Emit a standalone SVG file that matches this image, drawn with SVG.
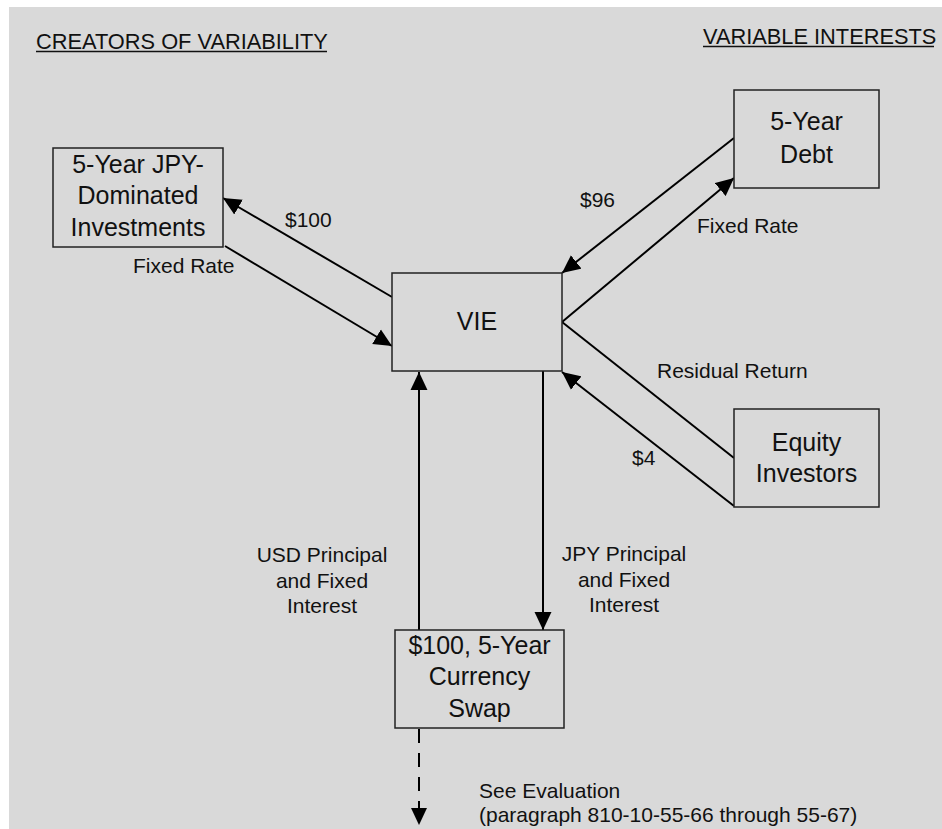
<svg xmlns="http://www.w3.org/2000/svg" width="942" height="829" viewBox="0 0 942 829">
<style>
text{font-family:"Liberation Sans",Arial,sans-serif;fill:#111}
.box{fill:#d9d9d9;stroke:#222;stroke-width:1.5}
.bt{font-size:25px;text-anchor:middle}
.lb{font-size:21px}
.hd{font-size:21.8px}
.ln{stroke:#000;stroke-width:2;fill:none}
.arr{marker-end:url(#ah)}
</style>
<defs>
<marker id="ah" markerUnits="userSpaceOnUse" markerWidth="18" markerHeight="18" viewBox="0 0 17 16" refX="17" refY="8" orient="auto">
<path d="M0,0 L17,8 L0,16 Z" fill="#000"/>
</marker>
</defs>
<rect x="9" y="7" width="933" height="822" fill="#d9d9d9"/>
<g id="headers">
<text class="hd" x="36" y="49">CREATORS OF VARIABILITY</text>
<line x1="36" y1="51.5" x2="327" y2="51.5" stroke="#111" stroke-width="1.5"/>
<text class="hd" x="703" y="44">VARIABLE INTERESTS</text>
<line x1="703" y1="46.5" x2="934" y2="46.5" stroke="#111" stroke-width="1.5"/>
</g>
<g id="connectors">
<line class="ln arr" x1="392" y1="297" x2="223" y2="198"/>
<line class="ln arr" x1="225" y1="246" x2="392" y2="346"/>
<line class="ln arr" x1="734" y1="138" x2="562" y2="273"/>
<line class="ln arr" x1="562" y1="322" x2="734" y2="178"/>
<line class="ln" x1="562" y1="322" x2="734" y2="458"/>
<line class="ln arr" x1="734" y1="506" x2="562" y2="372"/>
<line class="ln arr" x1="419" y1="630" x2="419" y2="372"/>
<line class="ln arr" x1="543" y1="371" x2="543" y2="630"/>
<line class="ln" x1="419" y1="729" x2="419" y2="810" stroke-dasharray="14 10"/>
<path d="M411,808 L427,808 L419,825 Z" fill="#000"/>
<text class="lb" x="285" y="227">$100</text>
<text class="lb" x="133" y="273">Fixed Rate</text>
<text class="lb" x="580" y="207">$96</text>
<text class="lb" x="697" y="233">Fixed Rate</text>
<text class="lb" x="657" y="378">Residual Return</text>
<text class="lb" x="632" y="465">$4</text>
<text class="lb" text-anchor="middle"><tspan x="322" y="562">USD Principal</tspan><tspan x="322" y="588">and Fixed</tspan><tspan x="322" y="613">Interest</tspan></text>
<text class="lb" text-anchor="middle"><tspan x="624" y="561">JPY Principal</tspan><tspan x="624" y="587">and Fixed</tspan><tspan x="624" y="612">Interest</tspan></text>
<text class="lb"><tspan x="479" y="798">See Evaluation</tspan><tspan x="479" y="822">(paragraph 810-10-55-66 through 55-67)</tspan></text>
</g>
<g id="investments">
<rect class="box" x="53" y="148" width="170" height="99"/>
<text class="bt"><tspan x="138" y="173">5-Year JPY-</tspan><tspan x="138" y="204">Dominated</tspan><tspan x="138" y="236">Investments</tspan></text>
</g>
<g id="vie">
<rect class="box" x="392" y="273" width="170" height="98"/>
<text class="bt" x="477" y="330">VIE</text>
</g>
<g id="debt">
<rect class="box" x="734" y="90" width="145" height="98"/>
<text class="bt"><tspan x="806.5" y="130">5-Year</tspan><tspan x="806.5" y="163">Debt</tspan></text>
</g>
<g id="equity">
<rect class="box" x="734" y="409" width="145" height="98"/>
<text class="bt"><tspan x="806.5" y="451">Equity</tspan><tspan x="806.5" y="482">Investors</tspan></text>
</g>
<g id="swap">
<rect class="box" x="395" y="630" width="169" height="98"/>
<text class="bt"><tspan x="479.5" y="654">$100, 5-Year</tspan><tspan x="479.5" y="685">Currency</tspan><tspan x="479.5" y="717">Swap</tspan></text>
</g>
</svg>
